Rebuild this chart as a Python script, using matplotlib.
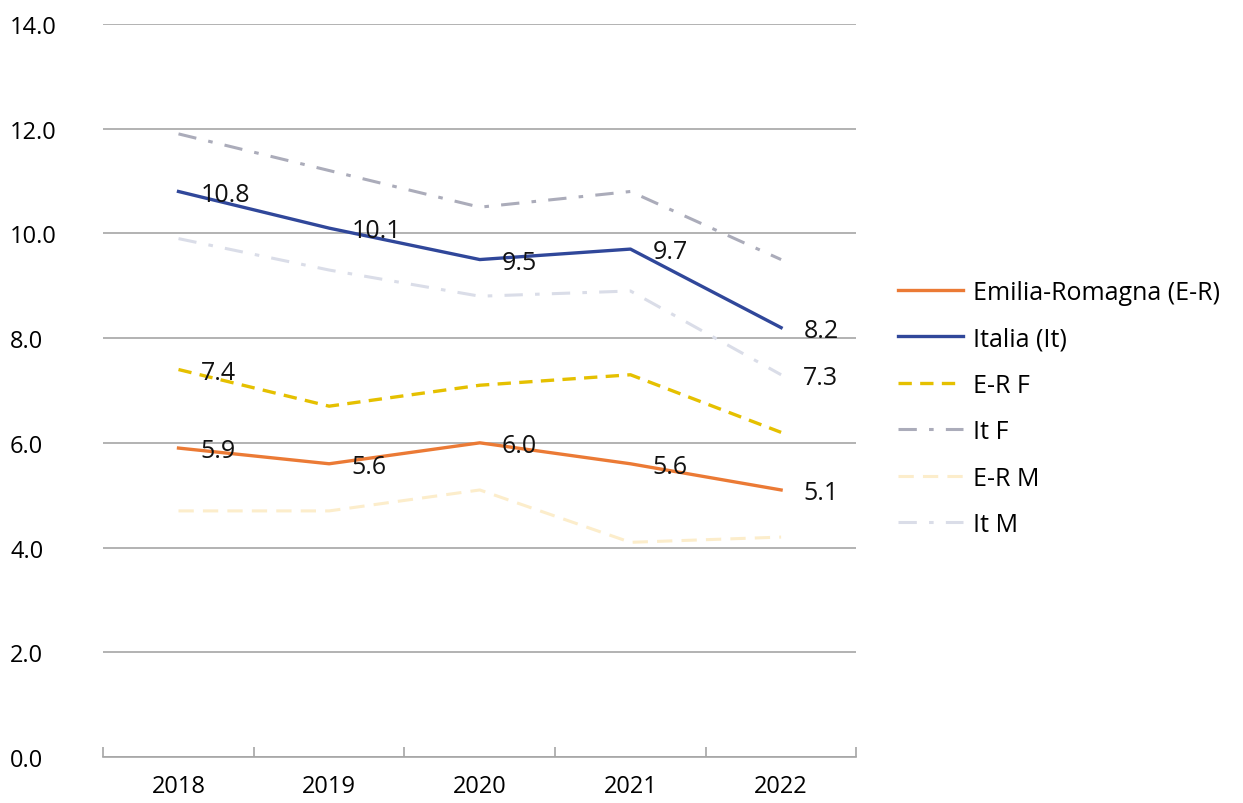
import numpy as np
import matplotlib.pyplot as plt

years = ['2018', '2019', '2020', '2021', '2022']

er = [5.9, 5.6, 6.0, 5.6, 5.1]
it = [10.8, 10.1, 9.5, 9.7, 8.2]
er_f = [7.4, 6.7, 7.1, 7.3, 6.2]
it_f = [11.9, 11.2, 10.5, 10.8, 9.5]
er_m = [4.7, 4.7, 5.1, 4.1, 4.2]
it_m = [9.9, 9.3, 8.8, 8.9, 7.3]

# which points carry a value label in the original
er_lab = [True, True, True, True, True]
it_lab = [True, True, True, True, True]
er_f_lab = [True, False, False, False, False]
it_m_lab = [False, False, False, False, True]

plt.rcParams['font.family'] = ['Open Sans', 'DejaVu Sans']

fig = plt.figure(figsize=(12.43, 8.04), dpi=100)
ax = fig.add_axes([0.083, 0.0572, 0.606, 0.9118])

x = np.arange(len(years))

# series drawn back to front
ax.plot(x, it_m, color='#DADDE8', lw=2.2, dashes=(6, 4, 1.5, 4), label='It M', zorder=3)
ax.plot(x, er_m, color='#FCEDCB', lw=2.2, dashes=(5, 3), label='E-R M', zorder=3)
ax.plot(x, it_f, color='#ABACBA', lw=2.2, dashes=(6, 4, 1.5, 4), label='It F', zorder=3)
ax.plot(x, er_f, color='#E5C000', lw=2.4, dashes=(4, 2.5), label='E-R F', zorder=4)
ax.plot(x, it, color='#30479A', lw=2.4, label='Italia (It)', zorder=5)
ax.plot(x, er, color='#EB7A35', lw=2.4, label='Emilia-Romagna (E-R)', zorder=5)

def labels(vals, flags):
    for xi, v, f in zip(x, vals, flags):
        if f:
            ax.annotate(f'{v:.1f}', (xi, v), xytext=(16, -2), textcoords='offset points',
                        ha='left', va='center', fontsize=18, color='#111111', zorder=6)

labels(er, er_lab)
labels(it, it_lab)
labels(er_f, er_f_lab)
labels(it_m, it_m_lab)

ax.set_xlim(-0.5, 4.5)
ax.set_ylim(0, 14)
ax.set_yticks(np.arange(0, 15, 2))
ax.set_yticklabels([f'{v:.1f}' for v in np.arange(0, 15, 2)], fontsize=17)
ax.set_xticks(x)
ax.set_xticklabels(years, fontsize=17)
ax.set_xticks(np.arange(-0.5, 5, 1), minor=True)
ax.tick_params(axis='x', which='major', length=0, pad=12)
ax.tick_params(axis='x', which='minor', direction='in', length=7, color='#A6A6A6', width=1.2)
ax.tick_params(axis='y', length=0, pad=67)
for lab in ax.get_yticklabels():
    lab.set_horizontalalignment('left')

ax.grid(axis='y', color='#A6A6A6', lw=1.2)
ax.set_axisbelow(True)
for s in ['top', 'right', 'left']:
    ax.spines[s].set_visible(False)
ax.spines['bottom'].set_color('#A6A6A6')
ax.spines['bottom'].set_linewidth(1.2)

h, l = ax.get_legend_handles_labels()
order = [5, 4, 3, 2, 1, 0]
ax.legend([h[i] for i in order], [l[i] for i in order], loc='upper left',
          bbox_to_anchor=(1.025, 0.682), frameon=False, fontsize=18,
          handlelength=2.6, handletextpad=0.4, labelspacing=0.86)

fig.savefig('out.png', dpi=100)
